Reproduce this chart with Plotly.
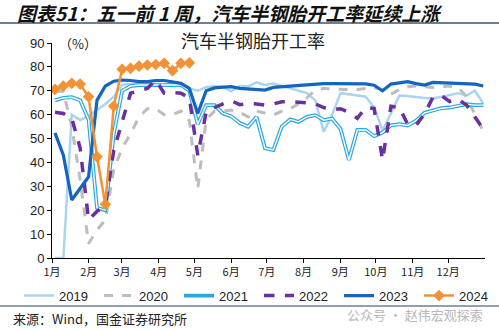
import plotly.graph_objects as go

month_days = [0, 31, 59, 90, 120, 151, 181, 212, 243, 273, 304, 334]
month_labels = ["1月", "2月", "3月", "4月", "5月", "6月", "7月", "8月", "9月", "10月", "11月", "12月"]
week_no = list(range(52))

v2019 = [0, 0, 60, 57.7, 59.5, 62, 64.5, 67.5, 72.5, 72.8, 72.5, 72.5, 72.8, 72.5, 72.8, 72.8, 71, 70,
         71.5, 72, 71.5, 69.8, 72, 71.8, 73.5, 72.4, 73, 72, 71, 70, 69, 66, 52.8, 60, 69, 68.5, 68, 67.5,
         63, 53.5, 60.5, 68, 67.8, 67.3, 67, 66.8, 67.5, 68.5, 69, 68, 70, 64.7]
v2020 = [70, 69.6, 55, 32.6, 6, 11.7, 16, 37, 46, 52, 59, 62.5, 62.5, 60, 60, 61.5, 57.5, 29, 58, 61.5,
         61.5, 61.9, 61, 59, 61.5, 60.5, 59.8, 61.5, 62.5, 64.5, 67, 70.3, 71, 70.8, 70.5, 70.5, 70.5, 71,
         71.4, 70.3, 68.5, 70.5, 71.7, 72, 71.7, 71.4, 71.7, 72, 71.4, 67.5, 60, 53]
v2021 = [66, 67, 67.3, 66, 58, 21, 20, 52, 70, 72, 72.4, 72.4, 72.4, 72.4, 72.4, 72.4, 70, 56, 64, 64,
         60.5, 59.3, 56.5, 55, 59, 46, 45.2, 55, 58, 57, 59.1, 59.8, 57.7, 58.4, 54, 41, 53.6, 53.6, 51,
         52.5, 55.5, 56, 55.5, 57.5, 60.8, 61.8, 62.7, 63, 63.6, 64.4, 64, 64]
v2022 = [61, 60.5, 58.5, 46, 16, 19.5, 22, 45, 57, 69, 70, 71, 74.5, 69, 69.2, 69, 67, 43, 61, 63,
         64.5, 65.8, 64.2, 64.6, 64.5, 64, 64.5, 65.4, 65.4, 65.3, 65, 64.5, 63, 62, 62.5, 61, 58.5, 63,
         62.6, 41, 63.5, 63, 56, 55.6, 60.3, 67.3, 68, 65.5, 66.5, 64, 59, 54]
v2023 = [52.4, 43, 24.3, 29, 34, 66, 72, 74, 74.5, 74.3, 73.8, 73.8, 74.3, 74.3, 73.8, 73.1, 71, 60.5,
         70, 71.2, 71.5, 71.7, 71, 70.7, 70.5, 70.3, 71.4, 71.7, 72, 72.3, 72.7, 72.9, 73, 73, 73, 73, 73,
         72.9, 72.3, 70, 72.8, 73.2, 73.8, 73, 72.4, 73.5, 73.3, 73.2, 73.1, 73, 72.8, 72]
v2024 = [70.6, 72, 73.1, 72.8, 67.5, 42.4, 22.5, 63.6, 79, 79.4, 80.3, 80.8, 81, 81.5, 78.4, 81.5, 81.7]

# week index -> day of year
def to_day(w):
    return 2.5 + 7.08 * w

days = [to_day(w) for w in week_no]

fig = go.Figure()
fig.add_trace(go.Scatter(x=days, y=v2019, name="2019", mode="lines",
                         line=dict(color="#a9d5f2", width=2.5)))
fig.add_trace(go.Scatter(x=days, y=v2020, name="2020", mode="lines",
                         line=dict(color="#bdbdbd", width=3, dash="dash")))
fig.add_trace(go.Scatter(x=days, y=v2021, name="2021", mode="lines",
                         line=dict(color="#2aa6e0", width=3.8)))
fig.add_trace(go.Scatter(x=days, y=v2021, name="2021", mode="lines", showlegend=False,
                         line=dict(color="white", width=1.4), hoverinfo="skip"))
fig.add_trace(go.Scatter(x=days, y=v2022, name="2022", mode="lines",
                         line=dict(color="#6b2fa0", width=3.5, dash="dash")))
fig.add_trace(go.Scatter(x=days, y=v2023, name="2023", mode="lines",
                         line=dict(color="#1565c0", width=3.2)))
fig.add_trace(go.Scatter(x=days[:len(v2024)], y=v2024, name="2024", mode="lines+markers",
                         line=dict(color="#f39234", width=2.5),
                         marker=dict(symbol="diamond", size=9, color="#f39234")))

L, R, T, B = 52, 14, 43, 73
fig.update_layout(
    width=499, height=331,
    margin=dict(l=L, r=R, t=T, b=B),
    paper_bgcolor="white", plot_bgcolor="white",
    font=dict(family="Liberation Sans, Arial, Noto Sans CJK SC", size=12, color="#222"),
    showlegend=True,
    legend=dict(orientation="h", x=-0.075, xanchor="left", y=-0.175, yanchor="middle",
                entrywidth=35, entrywidthmode="pixels", font=dict(size=13),
                itemwidth=30, tracegroupgap=0, bgcolor="rgba(0,0,0,0)"),
    xaxis=dict(range=[0, 365], tickvals=month_days, ticktext=month_labels,
               showgrid=False, zeroline=False, showline=True, linecolor="black", linewidth=1,
               ticks="outside", ticklen=4, tickcolor="black",
               tickfont=dict(size=11, family="Noto Sans CJK SC, Liberation Sans")),
    yaxis=dict(range=[0, 90], tickvals=list(range(0, 91, 10)),
               showgrid=False, zeroline=False, showline=True, linecolor="black", linewidth=1,
               ticks="outside", ticklen=4, tickcolor="black", tickfont=dict(size=13)),
)

fig.add_annotation(xref="paper", yref="paper", x=-0.0855, y=1.144, xanchor="left", yanchor="middle",
                   text="<b><i>图表51：五一前 1 周，汽车半钢胎开工率延续上涨</i></b>", showarrow=False,
                   font=dict(size=19, family="Noto Sans CJK SC", color="#111"))
fig.add_annotation(xref="paper", yref="paper", x=0.464, y=1.014, xanchor="center", yanchor="middle",
                   text="汽车半钢胎开工率", showarrow=False,
                   font=dict(size=18, family="Noto Sans CJK SC", color="#222"))
fig.add_annotation(xref="paper", yref="paper", x=0.012, y=1.0, xanchor="left", yanchor="middle",
                   text="（%）", showarrow=False,
                   font=dict(size=13, family="Noto Sans CJK SC", color="#222"))
fig.add_annotation(xref="paper", yref="paper", x=-0.095, y=-0.28, xanchor="left", yanchor="middle",
                   text="来源：Wind，国金证券研究所", showarrow=False,
                   font=dict(size=13, family="Noto Sans CJK SC", color="#222"))
fig.add_annotation(xref="paper", yref="paper", x=1.0, y=-0.265, xanchor="right", yanchor="middle",
                   text="公众号 · 赵伟宏观探索", showarrow=False,
                   font=dict(size=13, family="Noto Sans CJK SC", color="#b8b8b8"))

fig.add_shape(type="line", xref="paper", yref="paper", x0=-0.12, x1=1.04, y0=1.093, y1=1.093,
              line=dict(color="#6d7f95", width=2))
fig.add_shape(type="line", xref="paper", yref="paper", x0=-0.12, x1=1.04, y0=-0.223, y1=-0.223,
              line=dict(color="#6d7f95", width=1.5))

fig.write_html("out.html")
